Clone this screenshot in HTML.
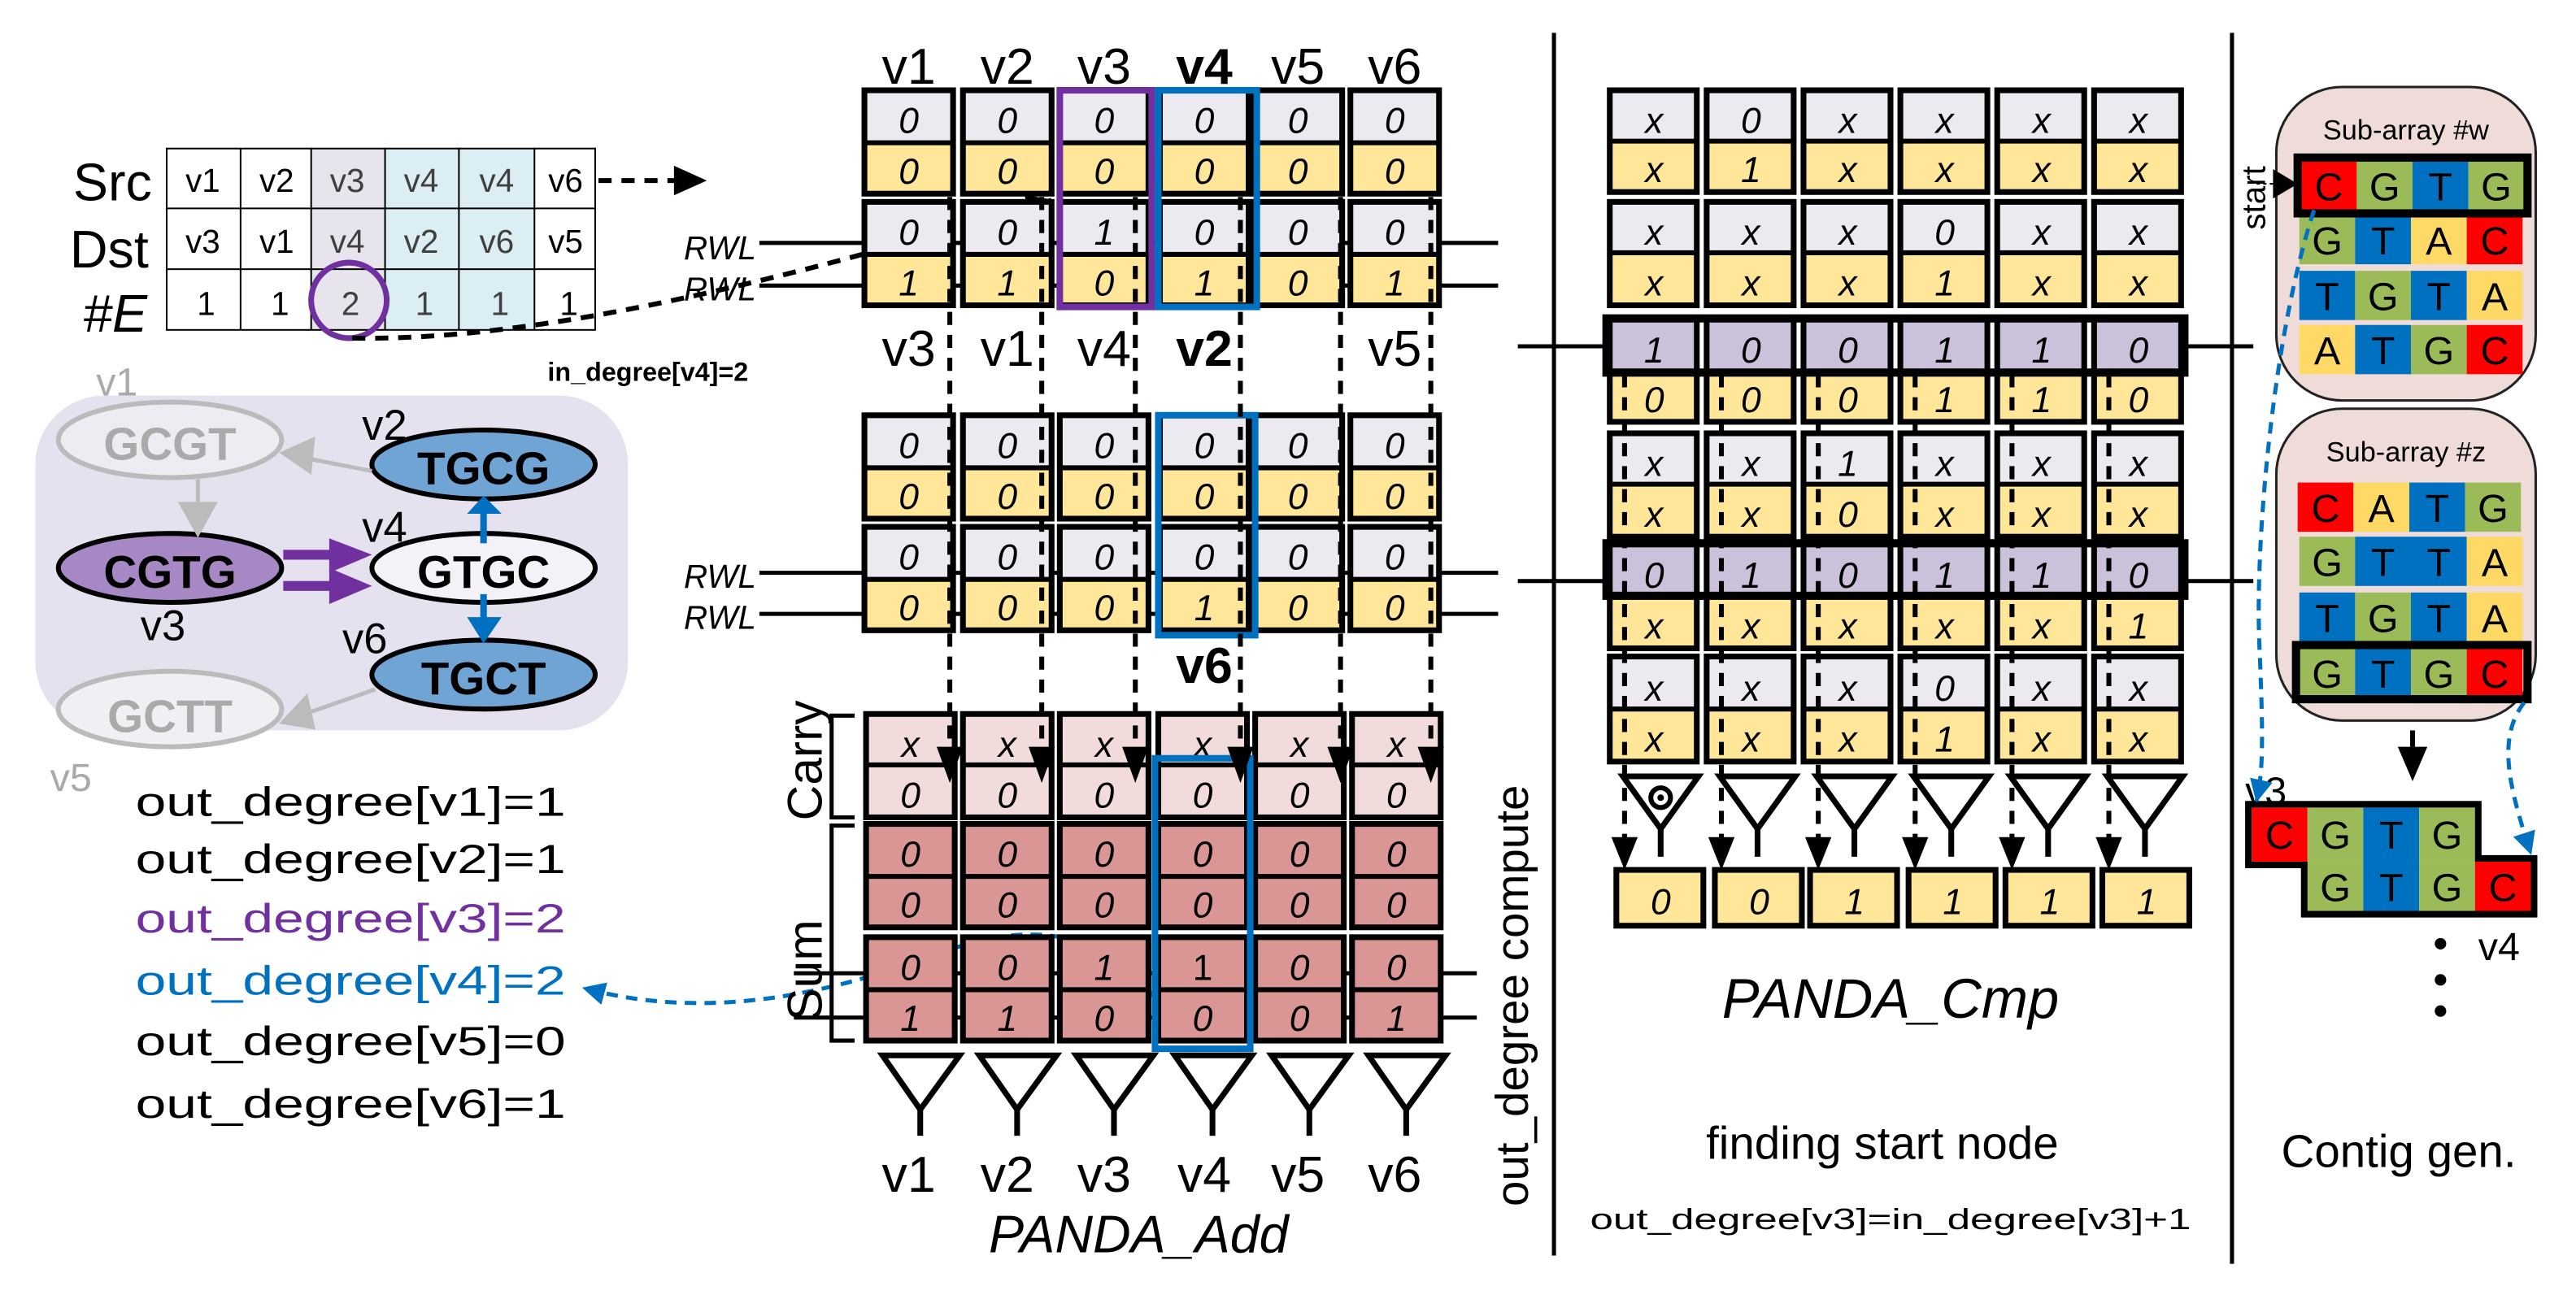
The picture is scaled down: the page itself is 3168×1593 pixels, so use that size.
<!DOCTYPE html>
<html><head><meta charset="utf-8"><style>
html,body{margin:0;padding:0;background:#fff}
svg{display:block}
text{font-family:"Liberation Sans",sans-serif}
.ct{font-size:22px;font-style:italic;text-anchor:middle}
.g{fill:#ece9f1}.y{fill:#ffe699}.p{fill:#ccc1da}.cr{fill:#f2dcdb}.sm{fill:#d99694}
.o{fill:none;stroke:#000;stroke-width:3.5}
.dv{stroke:#000;stroke-width:3;stroke-dasharray:8,6;fill:none}
.bs{font-size:24px;text-anchor:middle}
</style></head><body>
<svg width="3168" height="1593" viewBox="0 0 1568 789" xmlns="http://www.w3.org/2000/svg">
<defs>
<marker id="abl" markerWidth="14" markerHeight="14" refX="13" refY="7" orient="auto" markerUnits="userSpaceOnUse"><path d="M0,0 L14,7 L0,14z" fill="#0070c0"/></marker>
<marker id="abk" markerWidth="16" markerHeight="16" refX="15" refY="8" orient="auto" markerUnits="userSpaceOnUse"><path d="M0,0 L16,8 L0,16z" fill="#000"/></marker>
</defs>

<!-- ========== LEFT: table ========== -->
<text x="44" y="122" font-size="32">Src</text>
<text x="42" y="163" font-size="32">Dst</text>
<text x="50" y="202" font-size="32" font-style="italic">#E</text>
<rect x="189" y="90" width="45" height="111" fill="#e8e4ee"/>
<rect x="234" y="90" width="91" height="111" fill="#daeef3"/>
<g stroke="#000" stroke-width="1" fill="none">
<rect x="101" y="90.5" width="261" height="110.5"/>
<line x1="101" y1="127" x2="362" y2="127"/><line x1="101" y1="164" x2="362" y2="164"/>
<line x1="146" y1="90" x2="146" y2="201"/><line x1="189" y1="90" x2="189" y2="201"/><line x1="234" y1="90" x2="234" y2="201"/><line x1="279" y1="90" x2="279" y2="201"/><line x1="325" y1="90" x2="325" y2="201"/>
</g>
<g font-size="20" text-anchor="middle">
<text x="123" y="117">v1</text><text x="168" y="117">v2</text><text x="211" y="117" fill="#404040">v3</text><text x="256" y="117" fill="#404040">v4</text><text x="302" y="117" fill="#404040">v4</text><text x="344" y="117">v6</text>
<text x="123" y="154">v3</text><text x="168" y="154">v1</text><text x="211" y="154" fill="#404040">v4</text><text x="256" y="154" fill="#404040">v2</text><text x="302" y="154" fill="#404040">v6</text><text x="344" y="154">v5</text>
<text x="125" y="192">1</text><text x="170" y="192">1</text><text x="213" y="192" fill="#404040">2</text><text x="258" y="192" fill="#404040">1</text><text x="304" y="192" fill="#404040">1</text><text x="346" y="192">1</text>
</g>
<ellipse cx="212" cy="183" rx="23" ry="23" fill="none" stroke="#7030a0" stroke-width="3.5"/>
<line x1="364" y1="110" x2="412" y2="110" class="dv" stroke-dasharray="9,6"/>
<path d="M410,101 L430,110 L410,119z"/>
<path d="M214,206 C330,208 480,170 640,122" class="dv" stroke-width="2.5" marker-end="url(#abk)"/>
<text x="333" y="232" font-size="16" font-weight="bold">in_degree[v4]=2</text>

<!-- graph -->
<rect x="21" y="241" width="361" height="204" rx="42" fill="#e6e1ee"/>
<text x="58" y="241" font-size="24" fill="#aaa">v1</text>
<text x="30" y="482" font-size="24" fill="#aaa">v5</text>
<ellipse cx="103" cy="268" rx="68" ry="23" fill="#eeecf2" stroke="#bbb" stroke-width="3"/>
<text x="103" y="280" font-size="28" font-weight="bold" fill="#aaa" text-anchor="middle">GCGT</text>
<ellipse cx="103" cy="432" rx="68" ry="23" fill="#f0eff3" stroke="#bbb" stroke-width="3"/>
<text x="103" y="446" font-size="28" font-weight="bold" fill="#aaa" text-anchor="middle">GCTT</text>
<ellipse cx="103" cy="346" rx="68" ry="21" fill="#a688c4" stroke="#000" stroke-width="3"/>
<text x="103" y="358" font-size="28" font-weight="bold" text-anchor="middle">CGTG</text>
<ellipse cx="294" cy="283" rx="68" ry="21" fill="#70a4d4" stroke="#000" stroke-width="3"/>
<text x="294" y="295" font-size="28" font-weight="bold" text-anchor="middle">TGCG</text>
<ellipse cx="294" cy="346" rx="68" ry="21" fill="#f4f2f8" stroke="#000" stroke-width="3"/>
<text x="294" y="358" font-size="28" font-weight="bold" text-anchor="middle">GTGC</text>
<ellipse cx="294" cy="411" rx="68" ry="21" fill="#70a4d4" stroke="#000" stroke-width="3"/>
<text x="294" y="423" font-size="28" font-weight="bold" text-anchor="middle">TGCT</text>
<text x="220" y="268" font-size="26">v2</text>
<text x="220" y="330" font-size="26">v4</text>
<text x="85" y="390" font-size="26">v3</text>
<text x="208" y="398" font-size="26">v6</text>
<g stroke="#bbb" stroke-width="2.5" fill="#bbb">
<line x1="226" y1="287" x2="185" y2="279"/><path d="M172,276 L190,268 L188,287z"/>
<line x1="120" y1="292" x2="120" y2="308"/><path d="M110,307 L130,307 L120,325z"/>
<line x1="228" y1="420" x2="188" y2="434"/><path d="M172,440 L186,425 L190,443z"/>
</g>
<g fill="#7030a0"><rect x="172" y="335" width="30" height="6"/><rect x="172" y="354" width="30" height="6"/>
<path d="M200,328 L226,338 L200,349z"/><path d="M200,346 L226,357 L200,368z"/></g>
<g fill="#0070c0"><rect x="292" y="311" width="4" height="20"/><path d="M284,313 L294,302 L305,313z"/>
<rect x="292" y="362" width="4" height="16"/><path d="M284,376 L305,376 L294,392z"/></g>

<!-- out degrees -->
<g font-size="25">
<text x="82" y="497" textLength="262" lengthAdjust="spacingAndGlyphs">out_degree[v1]=1</text>
<text x="82" y="532" textLength="262" lengthAdjust="spacingAndGlyphs">out_degree[v2]=1</text>
<text x="82" y="568" textLength="262" lengthAdjust="spacingAndGlyphs" fill="#7030a0">out_degree[v3]=2</text>
<text x="82" y="606" textLength="262" lengthAdjust="spacingAndGlyphs" fill="#0070c0">out_degree[v4]=2</text>
<text x="82" y="643" textLength="262" lengthAdjust="spacingAndGlyphs">out_degree[v5]=0</text>
<text x="82" y="681" textLength="262" lengthAdjust="spacingAndGlyphs">out_degree[v6]=1</text>
</g>
<path d="M704,610 C680,570 630,560 580,578 C520,600 440,625 355,602" fill="none" stroke="#0070c0" stroke-width="2.5" stroke-dasharray="7,5" marker-end="url(#abl)"/>

<!-- ========== PANDA_Add ========== -->
<g font-size="31" text-anchor="middle">
<text x="553" y="51">v1</text><text x="613" y="51">v2</text><text x="672" y="51">v3</text><text x="733" y="51" font-weight="bold">v4</text><text x="790" y="51">v5</text><text x="849" y="51">v6</text>
<text x="553" y="223">v3</text><text x="613" y="223">v1</text><text x="672" y="223">v4</text><text x="733" y="223" font-weight="bold">v2</text><text x="849" y="223">v5</text>
<text x="733" y="416" font-weight="bold">v6</text>
<text x="553" y="726">v1</text><text x="613" y="726">v2</text><text x="672" y="726">v3</text><text x="733" y="726">v4</text><text x="790" y="726">v5</text><text x="849" y="726">v6</text>
</g>
<text x="693" y="763" font-size="32" font-style="italic" text-anchor="middle">PANDA_Add</text>
<g font-size="20" font-style="italic"><text x="416" y="158">RWL</text><text x="416" y="183">RWL</text><text x="416" y="358">RWL</text><text x="416" y="383">RWL</text></g>
<g stroke="#000" stroke-width="2.5">
<line x1="462" y1="148" x2="912" y2="148"/><line x1="462" y1="174" x2="912" y2="174"/>
<line x1="462" y1="349" x2="912" y2="349"/><line x1="462" y1="374" x2="912" y2="374"/>
<line x1="483" y1="593" x2="899" y2="593"/><line x1="483" y1="620" x2="899" y2="620"/>
</g>

<g class="ct">
<g transform="translate(526,55)"><rect width="54" height="32" class="g"/><rect y="32" width="54" height="31" class="y"/><rect width="54" height="63" class="o"/><line x2="54" y1="32" y2="32" stroke="#000" stroke-width="3"/><text x="27" y="26">0</text><text x="27" y="57">0</text></g>
<g transform="translate(586,55)"><rect width="54" height="32" class="g"/><rect y="32" width="54" height="31" class="y"/><rect width="54" height="63" class="o"/><line x2="54" y1="32" y2="32" stroke="#000" stroke-width="3"/><text x="27" y="26">0</text><text x="27" y="57">0</text></g>
<g transform="translate(645,55)"><rect width="54" height="32" class="g"/><rect y="32" width="54" height="31" class="y"/><rect width="54" height="63" class="o"/><line x2="54" y1="32" y2="32" stroke="#000" stroke-width="3"/><text x="27" y="26">0</text><text x="27" y="57">0</text></g>
<g transform="translate(706,55)"><rect width="54" height="32" class="g"/><rect y="32" width="54" height="31" class="y"/><rect width="54" height="63" class="o"/><line x2="54" y1="32" y2="32" stroke="#000" stroke-width="3"/><text x="27" y="26">0</text><text x="27" y="57">0</text></g>
<g transform="translate(763,55)"><rect width="54" height="32" class="g"/><rect y="32" width="54" height="31" class="y"/><rect width="54" height="63" class="o"/><line x2="54" y1="32" y2="32" stroke="#000" stroke-width="3"/><text x="27" y="26">0</text><text x="27" y="57">0</text></g>
<g transform="translate(822,55)"><rect width="54" height="32" class="g"/><rect y="32" width="54" height="31" class="y"/><rect width="54" height="63" class="o"/><line x2="54" y1="32" y2="32" stroke="#000" stroke-width="3"/><text x="27" y="26">0</text><text x="27" y="57">0</text></g>
<g transform="translate(526,123)"><rect width="54" height="32" class="g"/><rect y="32" width="54" height="31" class="y"/><rect width="54" height="63" class="o"/><line x2="54" y1="32" y2="32" stroke="#000" stroke-width="3"/><text x="27" y="26">0</text><text x="27" y="57">1</text></g>
<g transform="translate(586,123)"><rect width="54" height="32" class="g"/><rect y="32" width="54" height="31" class="y"/><rect width="54" height="63" class="o"/><line x2="54" y1="32" y2="32" stroke="#000" stroke-width="3"/><text x="27" y="26">0</text><text x="27" y="57">1</text></g>
<g transform="translate(645,123)"><rect width="54" height="32" class="g"/><rect y="32" width="54" height="31" class="y"/><rect width="54" height="63" class="o"/><line x2="54" y1="32" y2="32" stroke="#000" stroke-width="3"/><text x="27" y="26">1</text><text x="27" y="57">0</text></g>
<g transform="translate(706,123)"><rect width="54" height="32" class="g"/><rect y="32" width="54" height="31" class="y"/><rect width="54" height="63" class="o"/><line x2="54" y1="32" y2="32" stroke="#000" stroke-width="3"/><text x="27" y="26">0</text><text x="27" y="57">1</text></g>
<g transform="translate(763,123)"><rect width="54" height="32" class="g"/><rect y="32" width="54" height="31" class="y"/><rect width="54" height="63" class="o"/><line x2="54" y1="32" y2="32" stroke="#000" stroke-width="3"/><text x="27" y="26">0</text><text x="27" y="57">0</text></g>
<g transform="translate(822,123)"><rect width="54" height="32" class="g"/><rect y="32" width="54" height="31" class="y"/><rect width="54" height="63" class="o"/><line x2="54" y1="32" y2="32" stroke="#000" stroke-width="3"/><text x="27" y="26">0</text><text x="27" y="57">1</text></g>
<g transform="translate(526,253)"><rect width="54" height="32" class="g"/><rect y="32" width="54" height="31" class="y"/><rect width="54" height="63" class="o"/><line x2="54" y1="32" y2="32" stroke="#000" stroke-width="3"/><text x="27" y="26">0</text><text x="27" y="57">0</text></g>
<g transform="translate(586,253)"><rect width="54" height="32" class="g"/><rect y="32" width="54" height="31" class="y"/><rect width="54" height="63" class="o"/><line x2="54" y1="32" y2="32" stroke="#000" stroke-width="3"/><text x="27" y="26">0</text><text x="27" y="57">0</text></g>
<g transform="translate(645,253)"><rect width="54" height="32" class="g"/><rect y="32" width="54" height="31" class="y"/><rect width="54" height="63" class="o"/><line x2="54" y1="32" y2="32" stroke="#000" stroke-width="3"/><text x="27" y="26">0</text><text x="27" y="57">0</text></g>
<g transform="translate(706,253)"><rect width="54" height="32" class="g"/><rect y="32" width="54" height="31" class="y"/><rect width="54" height="63" class="o"/><line x2="54" y1="32" y2="32" stroke="#000" stroke-width="3"/><text x="27" y="26">0</text><text x="27" y="57">0</text></g>
<g transform="translate(763,253)"><rect width="54" height="32" class="g"/><rect y="32" width="54" height="31" class="y"/><rect width="54" height="63" class="o"/><line x2="54" y1="32" y2="32" stroke="#000" stroke-width="3"/><text x="27" y="26">0</text><text x="27" y="57">0</text></g>
<g transform="translate(822,253)"><rect width="54" height="32" class="g"/><rect y="32" width="54" height="31" class="y"/><rect width="54" height="63" class="o"/><line x2="54" y1="32" y2="32" stroke="#000" stroke-width="3"/><text x="27" y="26">0</text><text x="27" y="57">0</text></g>
<g transform="translate(526,321)"><rect width="54" height="32" class="g"/><rect y="32" width="54" height="31" class="y"/><rect width="54" height="63" class="o"/><line x2="54" y1="32" y2="32" stroke="#000" stroke-width="3"/><text x="27" y="26">0</text><text x="27" y="57">0</text></g>
<g transform="translate(586,321)"><rect width="54" height="32" class="g"/><rect y="32" width="54" height="31" class="y"/><rect width="54" height="63" class="o"/><line x2="54" y1="32" y2="32" stroke="#000" stroke-width="3"/><text x="27" y="26">0</text><text x="27" y="57">0</text></g>
<g transform="translate(645,321)"><rect width="54" height="32" class="g"/><rect y="32" width="54" height="31" class="y"/><rect width="54" height="63" class="o"/><line x2="54" y1="32" y2="32" stroke="#000" stroke-width="3"/><text x="27" y="26">0</text><text x="27" y="57">0</text></g>
<g transform="translate(706,321)"><rect width="54" height="32" class="g"/><rect y="32" width="54" height="31" class="y"/><rect width="54" height="63" class="o"/><line x2="54" y1="32" y2="32" stroke="#000" stroke-width="3"/><text x="27" y="26">0</text><text x="27" y="57">1</text></g>
<g transform="translate(763,321)"><rect width="54" height="32" class="g"/><rect y="32" width="54" height="31" class="y"/><rect width="54" height="63" class="o"/><line x2="54" y1="32" y2="32" stroke="#000" stroke-width="3"/><text x="27" y="26">0</text><text x="27" y="57">0</text></g>
<g transform="translate(822,321)"><rect width="54" height="32" class="g"/><rect y="32" width="54" height="31" class="y"/><rect width="54" height="63" class="o"/><line x2="54" y1="32" y2="32" stroke="#000" stroke-width="3"/><text x="27" y="26">0</text><text x="27" y="57">0</text></g>
<g transform="translate(527,435)"><rect width="54" height="63" class="cr"/><rect width="54" height="63" class="o"/><line x2="54" y1="31" y2="31" stroke="#000" stroke-width="3"/><text x="27" y="26">x</text><text x="27" y="57">0</text></g>
<g transform="translate(586,435)"><rect width="54" height="63" class="cr"/><rect width="54" height="63" class="o"/><line x2="54" y1="31" y2="31" stroke="#000" stroke-width="3"/><text x="27" y="26">x</text><text x="27" y="57">0</text></g>
<g transform="translate(645,435)"><rect width="54" height="63" class="cr"/><rect width="54" height="63" class="o"/><line x2="54" y1="31" y2="31" stroke="#000" stroke-width="3"/><text x="27" y="26">x</text><text x="27" y="57">0</text></g>
<g transform="translate(705,435)"><rect width="54" height="63" class="cr"/><rect width="54" height="63" class="o"/><line x2="54" y1="31" y2="31" stroke="#000" stroke-width="3"/><text x="27" y="26">x</text><text x="27" y="57">0</text></g>
<g transform="translate(764,435)"><rect width="54" height="63" class="cr"/><rect width="54" height="63" class="o"/><line x2="54" y1="31" y2="31" stroke="#000" stroke-width="3"/><text x="27" y="26">x</text><text x="27" y="57">0</text></g>
<g transform="translate(823,435)"><rect width="54" height="63" class="cr"/><rect width="54" height="63" class="o"/><line x2="54" y1="31" y2="31" stroke="#000" stroke-width="3"/><text x="27" y="26">x</text><text x="27" y="57">0</text></g>
<g transform="translate(527,502)"><rect width="54" height="63" class="sm"/><rect width="54" height="63" class="o"/><line x2="54" y1="32" y2="32" stroke="#000" stroke-width="3"/><text x="27" y="26">0</text><text x="27" y="57">0</text></g>
<g transform="translate(586,502)"><rect width="54" height="63" class="sm"/><rect width="54" height="63" class="o"/><line x2="54" y1="32" y2="32" stroke="#000" stroke-width="3"/><text x="27" y="26">0</text><text x="27" y="57">0</text></g>
<g transform="translate(645,502)"><rect width="54" height="63" class="sm"/><rect width="54" height="63" class="o"/><line x2="54" y1="32" y2="32" stroke="#000" stroke-width="3"/><text x="27" y="26">0</text><text x="27" y="57">0</text></g>
<g transform="translate(705,502)"><rect width="54" height="63" class="sm"/><rect width="54" height="63" class="o"/><line x2="54" y1="32" y2="32" stroke="#000" stroke-width="3"/><text x="27" y="26">0</text><text x="27" y="57">0</text></g>
<g transform="translate(764,502)"><rect width="54" height="63" class="sm"/><rect width="54" height="63" class="o"/><line x2="54" y1="32" y2="32" stroke="#000" stroke-width="3"/><text x="27" y="26">0</text><text x="27" y="57">0</text></g>
<g transform="translate(823,502)"><rect width="54" height="63" class="sm"/><rect width="54" height="63" class="o"/><line x2="54" y1="32" y2="32" stroke="#000" stroke-width="3"/><text x="27" y="26">0</text><text x="27" y="57">0</text></g>
<g transform="translate(527,571)"><rect width="54" height="63" class="sm"/><rect width="54" height="63" class="o"/><line x2="54" y1="32" y2="32" stroke="#000" stroke-width="3"/><text x="27" y="26">0</text><text x="27" y="57">1</text></g>
<g transform="translate(586,571)"><rect width="54" height="63" class="sm"/><rect width="54" height="63" class="o"/><line x2="54" y1="32" y2="32" stroke="#000" stroke-width="3"/><text x="27" y="26">0</text><text x="27" y="57">1</text></g>
<g transform="translate(645,571)"><rect width="54" height="63" class="sm"/><rect width="54" height="63" class="o"/><line x2="54" y1="32" y2="32" stroke="#000" stroke-width="3"/><text x="27" y="26">1</text><text x="27" y="57">0</text></g>
<g transform="translate(705,571)"><rect width="54" height="63" class="sm"/><rect width="54" height="63" class="o"/><line x2="54" y1="32" y2="32" stroke="#000" stroke-width="3"/><text x="27" y="26" font-style="normal">1</text><text x="27" y="57">0</text></g>
<g transform="translate(764,571)"><rect width="54" height="63" class="sm"/><rect width="54" height="63" class="o"/><line x2="54" y1="32" y2="32" stroke="#000" stroke-width="3"/><text x="27" y="26">0</text><text x="27" y="57">0</text></g>
<g transform="translate(823,571)"><rect width="54" height="63" class="sm"/><rect width="54" height="63" class="o"/><line x2="54" y1="32" y2="32" stroke="#000" stroke-width="3"/><text x="27" y="26">0</text><text x="27" y="57">1</text></g>
</g>
<rect x="645" y="55" width="56" height="132" fill="none" stroke="#7030a0" stroke-width="4"/>
<rect x="705" y="55" width="60" height="132" fill="none" stroke="#0070c0" stroke-width="4"/>
<rect x="705" y="253" width="59" height="134" fill="none" stroke="#0070c0" stroke-width="4"/>
<rect x="703" y="462" width="58" height="177" fill="none" stroke="#0070c0" stroke-width="4"/>
<g class="dv">
<line x1="578" y1="120" x2="578" y2="458"/><line x1="634" y1="120" x2="634" y2="458"/><line x1="691" y1="120" x2="691" y2="458"/><line x1="755" y1="120" x2="755" y2="458"/><line x1="816" y1="120" x2="816" y2="458"/><line x1="871" y1="120" x2="871" y2="458"/>
</g>
<g><path d="M570,455 L586,455 L578,477z"/><path d="M626,455 L642,455 L634,477z"/><path d="M683,455 L699,455 L691,477z"/><path d="M747,455 L763,455 L755,477z"/><path d="M808,455 L824,455 L816,477z"/><path d="M863,455 L879,455 L871,477z"/></g>
<g stroke="#000" stroke-width="2.5" fill="none">
<path d="M520,436 L506,436 L506,498 L520,498"/>
<path d="M520,503 L506,503 L506,634 L520,634"/>
</g>
<text transform="translate(500,500) rotate(-90)" font-size="30">Carry</text>
<text transform="translate(500,622) rotate(-90)" font-size="30">Sum</text>
<text transform="translate(930,735) rotate(-90)" font-size="28">out_degree compute</text>
<g stroke="#000" stroke-width="3.5" fill="#fff">
<path d="M537,643 L584,643 L560,676z"/><path d="M596,643 L643,643 L619,676z"/><path d="M655,643 L702,643 L678,676z"/><path d="M715,643 L762,643 L738,676z"/><path d="M774,643 L821,643 L797,676z"/><path d="M833,643 L880,643 L856,676z"/>
<line x1="560" y1="676" x2="560" y2="692"/><line x1="619" y1="676" x2="619" y2="692"/><line x1="678" y1="676" x2="678" y2="692"/><line x1="738" y1="676" x2="738" y2="692"/><line x1="797" y1="676" x2="797" y2="692"/><line x1="856" y1="676" x2="856" y2="692"/>
</g>

<line x1="946" y1="20" x2="946" y2="765" stroke="#000" stroke-width="2.5"/>
<line x1="1359" y1="20" x2="1359" y2="770" stroke="#000" stroke-width="2.5"/>

<!-- ========== PANDA_Cmp ========== -->
<g stroke="#000" stroke-width="2.5"><line x1="924" y1="211" x2="980" y2="211"/><line x1="1328" y1="211" x2="1372" y2="211"/><line x1="924" y1="354" x2="980" y2="354"/><line x1="1328" y1="354" x2="1372" y2="354"/></g>
<g class="ct">
<g transform="translate(980,55)"><rect width="53" height="31" class="g"/><rect y="31" width="53" height="31" class="y"/><rect width="53" height="62" class="o"/><line x2="53" y1="31" y2="31" stroke="#000" stroke-width="3"/><text x="27" y="26">x</text><text x="27" y="56">x</text></g>
<g transform="translate(1039,55)"><rect width="53" height="31" class="g"/><rect y="31" width="53" height="31" class="y"/><rect width="53" height="62" class="o"/><line x2="53" y1="31" y2="31" stroke="#000" stroke-width="3"/><text x="27" y="26">0</text><text x="27" y="56">1</text></g>
<g transform="translate(1098,55)"><rect width="53" height="31" class="g"/><rect y="31" width="53" height="31" class="y"/><rect width="53" height="62" class="o"/><line x2="53" y1="31" y2="31" stroke="#000" stroke-width="3"/><text x="27" y="26">x</text><text x="27" y="56">x</text></g>
<g transform="translate(1157,55)"><rect width="53" height="31" class="g"/><rect y="31" width="53" height="31" class="y"/><rect width="53" height="62" class="o"/><line x2="53" y1="31" y2="31" stroke="#000" stroke-width="3"/><text x="27" y="26">x</text><text x="27" y="56">x</text></g>
<g transform="translate(1216,55)"><rect width="53" height="31" class="g"/><rect y="31" width="53" height="31" class="y"/><rect width="53" height="62" class="o"/><line x2="53" y1="31" y2="31" stroke="#000" stroke-width="3"/><text x="27" y="26">x</text><text x="27" y="56">x</text></g>
<g transform="translate(1275,55)"><rect width="53" height="31" class="g"/><rect y="31" width="53" height="31" class="y"/><rect width="53" height="62" class="o"/><line x2="53" y1="31" y2="31" stroke="#000" stroke-width="3"/><text x="27" y="26">x</text><text x="27" y="56">x</text></g>
<g transform="translate(980,123)"><rect width="53" height="31" class="g"/><rect y="31" width="53" height="32" class="y"/><rect width="53" height="63" class="o"/><line x2="53" y1="31" y2="31" stroke="#000" stroke-width="3"/><text x="27" y="26">x</text><text x="27" y="57">x</text></g>
<g transform="translate(1039,123)"><rect width="53" height="31" class="g"/><rect y="31" width="53" height="32" class="y"/><rect width="53" height="63" class="o"/><line x2="53" y1="31" y2="31" stroke="#000" stroke-width="3"/><text x="27" y="26">x</text><text x="27" y="57">x</text></g>
<g transform="translate(1098,123)"><rect width="53" height="31" class="g"/><rect y="31" width="53" height="32" class="y"/><rect width="53" height="63" class="o"/><line x2="53" y1="31" y2="31" stroke="#000" stroke-width="3"/><text x="27" y="26">x</text><text x="27" y="57">x</text></g>
<g transform="translate(1157,123)"><rect width="53" height="31" class="g"/><rect y="31" width="53" height="32" class="y"/><rect width="53" height="63" class="o"/><line x2="53" y1="31" y2="31" stroke="#000" stroke-width="3"/><text x="27" y="26">0</text><text x="27" y="57">1</text></g>
<g transform="translate(1216,123)"><rect width="53" height="31" class="g"/><rect y="31" width="53" height="32" class="y"/><rect width="53" height="63" class="o"/><line x2="53" y1="31" y2="31" stroke="#000" stroke-width="3"/><text x="27" y="26">x</text><text x="27" y="57">x</text></g>
<g transform="translate(1275,123)"><rect width="53" height="31" class="g"/><rect y="31" width="53" height="32" class="y"/><rect width="53" height="63" class="o"/><line x2="53" y1="31" y2="31" stroke="#000" stroke-width="3"/><text x="27" y="26">x</text><text x="27" y="57">x</text></g>
<g transform="translate(980,194)"><rect width="53" height="32" class="p"/><rect y="32" width="53" height="31" class="y"/><rect width="53" height="63" class="o"/><text x="27" y="27">1</text><text x="27" y="57">0</text></g>
<g transform="translate(1039,194)"><rect width="53" height="32" class="p"/><rect y="32" width="53" height="31" class="y"/><rect width="53" height="63" class="o"/><text x="27" y="27">0</text><text x="27" y="57">0</text></g>
<g transform="translate(1098,194)"><rect width="53" height="32" class="p"/><rect y="32" width="53" height="31" class="y"/><rect width="53" height="63" class="o"/><text x="27" y="27">0</text><text x="27" y="57">0</text></g>
<g transform="translate(1157,194)"><rect width="53" height="32" class="p"/><rect y="32" width="53" height="31" class="y"/><rect width="53" height="63" class="o"/><text x="27" y="27">1</text><text x="27" y="57">1</text></g>
<g transform="translate(1216,194)"><rect width="53" height="32" class="p"/><rect y="32" width="53" height="31" class="y"/><rect width="53" height="63" class="o"/><text x="27" y="27">1</text><text x="27" y="57">1</text></g>
<g transform="translate(1275,194)"><rect width="53" height="32" class="p"/><rect y="32" width="53" height="31" class="y"/><rect width="53" height="63" class="o"/><text x="27" y="27">0</text><text x="27" y="57">0</text></g>
<g transform="translate(980,264)"><rect width="53" height="31" class="g"/><rect y="31" width="53" height="32" class="y"/><rect width="53" height="63" class="o"/><line x2="53" y1="31" y2="31" stroke="#000" stroke-width="3"/><text x="27" y="26">x</text><text x="27" y="57">x</text></g>
<g transform="translate(1039,264)"><rect width="53" height="31" class="g"/><rect y="31" width="53" height="32" class="y"/><rect width="53" height="63" class="o"/><line x2="53" y1="31" y2="31" stroke="#000" stroke-width="3"/><text x="27" y="26">x</text><text x="27" y="57">x</text></g>
<g transform="translate(1098,264)"><rect width="53" height="31" class="g"/><rect y="31" width="53" height="32" class="y"/><rect width="53" height="63" class="o"/><line x2="53" y1="31" y2="31" stroke="#000" stroke-width="3"/><text x="27" y="26">1</text><text x="27" y="57">0</text></g>
<g transform="translate(1157,264)"><rect width="53" height="31" class="g"/><rect y="31" width="53" height="32" class="y"/><rect width="53" height="63" class="o"/><line x2="53" y1="31" y2="31" stroke="#000" stroke-width="3"/><text x="27" y="26">x</text><text x="27" y="57">x</text></g>
<g transform="translate(1216,264)"><rect width="53" height="31" class="g"/><rect y="31" width="53" height="32" class="y"/><rect width="53" height="63" class="o"/><line x2="53" y1="31" y2="31" stroke="#000" stroke-width="3"/><text x="27" y="26">x</text><text x="27" y="57">x</text></g>
<g transform="translate(1275,264)"><rect width="53" height="31" class="g"/><rect y="31" width="53" height="32" class="y"/><rect width="53" height="63" class="o"/><line x2="53" y1="31" y2="31" stroke="#000" stroke-width="3"/><text x="27" y="26">x</text><text x="27" y="57">x</text></g>
<g transform="translate(980,331)"><rect width="53" height="32" class="p"/><rect y="32" width="53" height="32" class="y"/><rect width="53" height="64" class="o"/><text x="27" y="27">0</text><text x="27" y="58">x</text></g>
<g transform="translate(1039,331)"><rect width="53" height="32" class="p"/><rect y="32" width="53" height="32" class="y"/><rect width="53" height="64" class="o"/><text x="27" y="27">1</text><text x="27" y="58">x</text></g>
<g transform="translate(1098,331)"><rect width="53" height="32" class="p"/><rect y="32" width="53" height="32" class="y"/><rect width="53" height="64" class="o"/><text x="27" y="27">0</text><text x="27" y="58">x</text></g>
<g transform="translate(1157,331)"><rect width="53" height="32" class="p"/><rect y="32" width="53" height="32" class="y"/><rect width="53" height="64" class="o"/><text x="27" y="27">1</text><text x="27" y="58">x</text></g>
<g transform="translate(1216,331)"><rect width="53" height="32" class="p"/><rect y="32" width="53" height="32" class="y"/><rect width="53" height="64" class="o"/><text x="27" y="27">1</text><text x="27" y="58">x</text></g>
<g transform="translate(1275,331)"><rect width="53" height="32" class="p"/><rect y="32" width="53" height="32" class="y"/><rect width="53" height="64" class="o"/><text x="27" y="27">0</text><text x="27" y="58">1</text></g>
<g transform="translate(980,400)"><rect width="53" height="32" class="g"/><rect y="32" width="53" height="32" class="y"/><rect width="53" height="64" class="o"/><line x2="53" y1="32" y2="32" stroke="#000" stroke-width="3"/><text x="27" y="27">x</text><text x="27" y="58">x</text></g>
<g transform="translate(1039,400)"><rect width="53" height="32" class="g"/><rect y="32" width="53" height="32" class="y"/><rect width="53" height="64" class="o"/><line x2="53" y1="32" y2="32" stroke="#000" stroke-width="3"/><text x="27" y="27">x</text><text x="27" y="58">x</text></g>
<g transform="translate(1098,400)"><rect width="53" height="32" class="g"/><rect y="32" width="53" height="32" class="y"/><rect width="53" height="64" class="o"/><line x2="53" y1="32" y2="32" stroke="#000" stroke-width="3"/><text x="27" y="27">x</text><text x="27" y="58">x</text></g>
<g transform="translate(1157,400)"><rect width="53" height="32" class="g"/><rect y="32" width="53" height="32" class="y"/><rect width="53" height="64" class="o"/><line x2="53" y1="32" y2="32" stroke="#000" stroke-width="3"/><text x="27" y="27">0</text><text x="27" y="58">1</text></g>
<g transform="translate(1216,400)"><rect width="53" height="32" class="g"/><rect y="32" width="53" height="32" class="y"/><rect width="53" height="64" class="o"/><line x2="53" y1="32" y2="32" stroke="#000" stroke-width="3"/><text x="27" y="27">x</text><text x="27" y="58">x</text></g>
<g transform="translate(1275,400)"><rect width="53" height="32" class="g"/><rect y="32" width="53" height="32" class="y"/><rect width="53" height="64" class="o"/><line x2="53" y1="32" y2="32" stroke="#000" stroke-width="3"/><text x="27" y="27">x</text><text x="27" y="58">x</text></g>
<g transform="translate(984,530)"><rect width="53" height="34" class="y"/><rect width="53" height="34" class="o"/><text x="27" y="27">0</text></g>
<g transform="translate(1044,530)"><rect width="53" height="34" class="y"/><rect width="53" height="34" class="o"/><text x="27" y="27">0</text></g>
<g transform="translate(1102,530)"><rect width="53" height="34" class="y"/><rect width="53" height="34" class="o"/><text x="27" y="27">1</text></g>
<g transform="translate(1162,530)"><rect width="53" height="34" class="y"/><rect width="53" height="34" class="o"/><text x="27" y="27">1</text></g>
<g transform="translate(1221,530)"><rect width="53" height="34" class="y"/><rect width="53" height="34" class="o"/><text x="27" y="27">1</text></g>
<g transform="translate(1280,530)"><rect width="53" height="34" class="y"/><rect width="53" height="34" class="o"/><text x="27" y="27">1</text></g>
</g>
<rect x="978" y="194" width="352" height="33" fill="none" stroke="#000" stroke-width="5"/>
<rect x="978" y="331" width="352" height="32" fill="none" stroke="#000" stroke-width="5"/>
<g class="dv" stroke-width="2.5">
<line x1="989" y1="228" x2="989" y2="515"/><line x1="1048" y1="228" x2="1048" y2="515"/><line x1="1107" y1="228" x2="1107" y2="515"/><line x1="1166" y1="228" x2="1166" y2="515"/><line x1="1225" y1="228" x2="1225" y2="515"/><line x1="1284" y1="228" x2="1284" y2="515"/>
</g>
<g stroke="#000" stroke-width="3.5" fill="#fff">
<path d="M988,473 L1034,473 L1011,505z"/><path d="M1047,473 L1093,473 L1070,505z"/><path d="M1106,473 L1152,473 L1129,505z"/><path d="M1165,473 L1211,473 L1188,505z"/><path d="M1224,473 L1270,473 L1247,505z"/><path d="M1283,473 L1329,473 L1306,505z"/>
<line x1="1011" y1="505" x2="1011" y2="522"/><line x1="1070" y1="505" x2="1070" y2="522"/><line x1="1129" y1="505" x2="1129" y2="522"/><line x1="1188" y1="505" x2="1188" y2="522"/><line x1="1247" y1="505" x2="1247" y2="522"/><line x1="1306" y1="505" x2="1306" y2="522"/>
</g>
<circle cx="1011" cy="486" r="6" fill="none" stroke="#000" stroke-width="3"/><circle cx="1011" cy="486" r="2"/>
<g><path d="M981,510 L997,510 L989,530z"/><path d="M1040,510 L1056,510 L1048,530z"/><path d="M1099,510 L1115,510 L1107,530z"/><path d="M1158,510 L1174,510 L1166,530z"/><path d="M1217,510 L1233,510 L1225,530z"/><path d="M1276,510 L1292,510 L1284,530z"/></g>
<text x="1151" y="620" font-size="34" font-style="italic" text-anchor="middle">PANDA_Cmp</text>
<text x="1146" y="706" font-size="28" text-anchor="middle">finding start node</text>
<text x="968" y="749" font-size="18" textLength="366" lengthAdjust="spacingAndGlyphs">out_degree[v3]=in_degree[v3]+1</text>

<!-- ========== Contig ========== -->
<rect x="1386" y="53" width="158" height="191" rx="40" fill="#efdcd9" stroke="#222" stroke-width="1.5"/>
<rect x="1386" y="249" width="158" height="190" rx="40" fill="#efdcd9" stroke="#222" stroke-width="1.5"/>
<text x="1465" y="85" font-size="17" text-anchor="middle">Sub-array #w</text>
<text x="1465" y="281" font-size="17" text-anchor="middle">Sub-array #z</text>
<g class="bs">
<rect x="1401" y="97" width="34" height="32" fill="#f00"/><rect x="1435" y="97" width="34" height="32" fill="#9bbb59"/><rect x="1469" y="97" width="34" height="32" fill="#0070c0"/><rect x="1503" y="97" width="34" height="32" fill="#9bbb59"/>
<text x="1418" y="122">C</text><text x="1452" y="122">G</text><text x="1486" y="122">T</text><text x="1520" y="122">G</text>
<rect x="1400" y="131" width="34" height="30" fill="#9bbb59"/><rect x="1434" y="131" width="34" height="30" fill="#0070c0"/><rect x="1468" y="131" width="34" height="30" fill="#ffd966"/><rect x="1502" y="131" width="34" height="30" fill="#f00"/>
<text x="1417" y="155">G</text><text x="1451" y="155">T</text><text x="1485" y="155">A</text><text x="1519" y="155">C</text>
<rect x="1400" y="165" width="34" height="30" fill="#0070c0"/><rect x="1434" y="165" width="34" height="30" fill="#9bbb59"/><rect x="1468" y="165" width="34" height="30" fill="#0070c0"/><rect x="1502" y="165" width="34" height="30" fill="#ffd966"/>
<text x="1417" y="189">T</text><text x="1451" y="189">G</text><text x="1485" y="189">T</text><text x="1519" y="189">A</text>
<rect x="1400" y="198" width="34" height="30" fill="#ffd966"/><rect x="1434" y="198" width="34" height="30" fill="#0070c0"/><rect x="1468" y="198" width="34" height="30" fill="#9bbb59"/><rect x="1502" y="198" width="34" height="30" fill="#f00"/>
<text x="1417" y="222">A</text><text x="1451" y="222">T</text><text x="1485" y="222">G</text><text x="1519" y="222">C</text>
<rect x="1399" y="294" width="34" height="30" fill="#f00"/><rect x="1433" y="294" width="34" height="30" fill="#ffd966"/><rect x="1467" y="294" width="34" height="30" fill="#0070c0"/><rect x="1501" y="294" width="34" height="30" fill="#9bbb59"/>
<text x="1416" y="318">C</text><text x="1450" y="318">A</text><text x="1484" y="318">T</text><text x="1518" y="318">G</text>
<rect x="1400" y="327" width="34" height="30" fill="#9bbb59"/><rect x="1434" y="327" width="34" height="30" fill="#0070c0"/><rect x="1468" y="327" width="34" height="30" fill="#0070c0"/><rect x="1502" y="327" width="34" height="30" fill="#ffd966"/>
<text x="1417" y="351">G</text><text x="1451" y="351">T</text><text x="1485" y="351">T</text><text x="1519" y="351">A</text>
<rect x="1400" y="361" width="34" height="30" fill="#0070c0"/><rect x="1434" y="361" width="34" height="30" fill="#9bbb59"/><rect x="1468" y="361" width="34" height="30" fill="#0070c0"/><rect x="1502" y="361" width="34" height="30" fill="#ffd966"/>
<text x="1417" y="385">T</text><text x="1451" y="385">G</text><text x="1485" y="385">T</text><text x="1519" y="385">A</text>
<rect x="1400" y="394" width="34" height="31" fill="#9bbb59"/><rect x="1434" y="394" width="34" height="31" fill="#0070c0"/><rect x="1468" y="394" width="34" height="31" fill="#9bbb59"/><rect x="1502" y="394" width="34" height="31" fill="#f00"/>
<text x="1417" y="419">G</text><text x="1451" y="419">T</text><text x="1485" y="419">G</text><text x="1519" y="419">C</text>
<!-- contig -->
<rect x="1371" y="492" width="34" height="33" fill="#f00"/><rect x="1405" y="492" width="34" height="33" fill="#9bbb59"/><rect x="1439" y="492" width="34" height="33" fill="#0070c0"/><rect x="1473" y="492" width="34" height="33" fill="#9bbb59"/>
<text x="1388" y="517">C</text><text x="1422" y="517">G</text><text x="1456" y="517">T</text><text x="1490" y="517">G</text>
<rect x="1405" y="525" width="34" height="30" fill="#9bbb59"/><rect x="1439" y="525" width="34" height="30" fill="#0070c0"/><rect x="1473" y="525" width="34" height="30" fill="#9bbb59"/><rect x="1507" y="525" width="34" height="30" fill="#f00"/>
<text x="1422" y="549">G</text><text x="1456" y="549">T</text><text x="1490" y="549">G</text><text x="1524" y="549">C</text>
</g>
<path d="M1369,490 L1509,490 L1509,523 L1543,523 L1543,557 L1403,557 L1403,527 L1369,527z" fill="none" stroke="#000" stroke-width="4"/>
<rect x="1399" y="96" width="140" height="34" fill="none" stroke="#000" stroke-width="5"/>
<rect x="1398" y="393" width="141" height="33" fill="none" stroke="#000" stroke-width="5"/>
<text transform="translate(1379,140) rotate(-90)" font-size="20">start</text>
<path d="M1374,112 L1386,112" stroke="#000" stroke-width="1" stroke-dasharray="2,2"/>
<path d="M1384,103 L1399,112 L1384,121z"/>
<line x1="1469" y1="445" x2="1469" y2="455" stroke="#000" stroke-width="3"/>
<path d="M1460,455 L1478,455 L1469,476z"/>
<text x="1367" y="490" font-size="24">v3</text>
<text x="1509" y="585" font-size="24">v4</text>
<circle cx="1486" cy="575" r="3.5"/><circle cx="1486" cy="597" r="3.5"/><circle cx="1486" cy="616" r="3.5"/>
<path d="M1409,128 C1385,200 1372,330 1376,400 C1378,450 1378,470 1374,488" fill="none" stroke="#0070c0" stroke-width="2.5" stroke-dasharray="7,5" marker-end="url(#abl)"/>
<path d="M1537,428 C1520,450 1528,480 1541,520" fill="none" stroke="#0070c0" stroke-width="2.5" stroke-dasharray="7,5" marker-end="url(#abl)"/>
<text x="1389" y="711" font-size="28">Contig gen.</text>
</svg>
</body></html>
